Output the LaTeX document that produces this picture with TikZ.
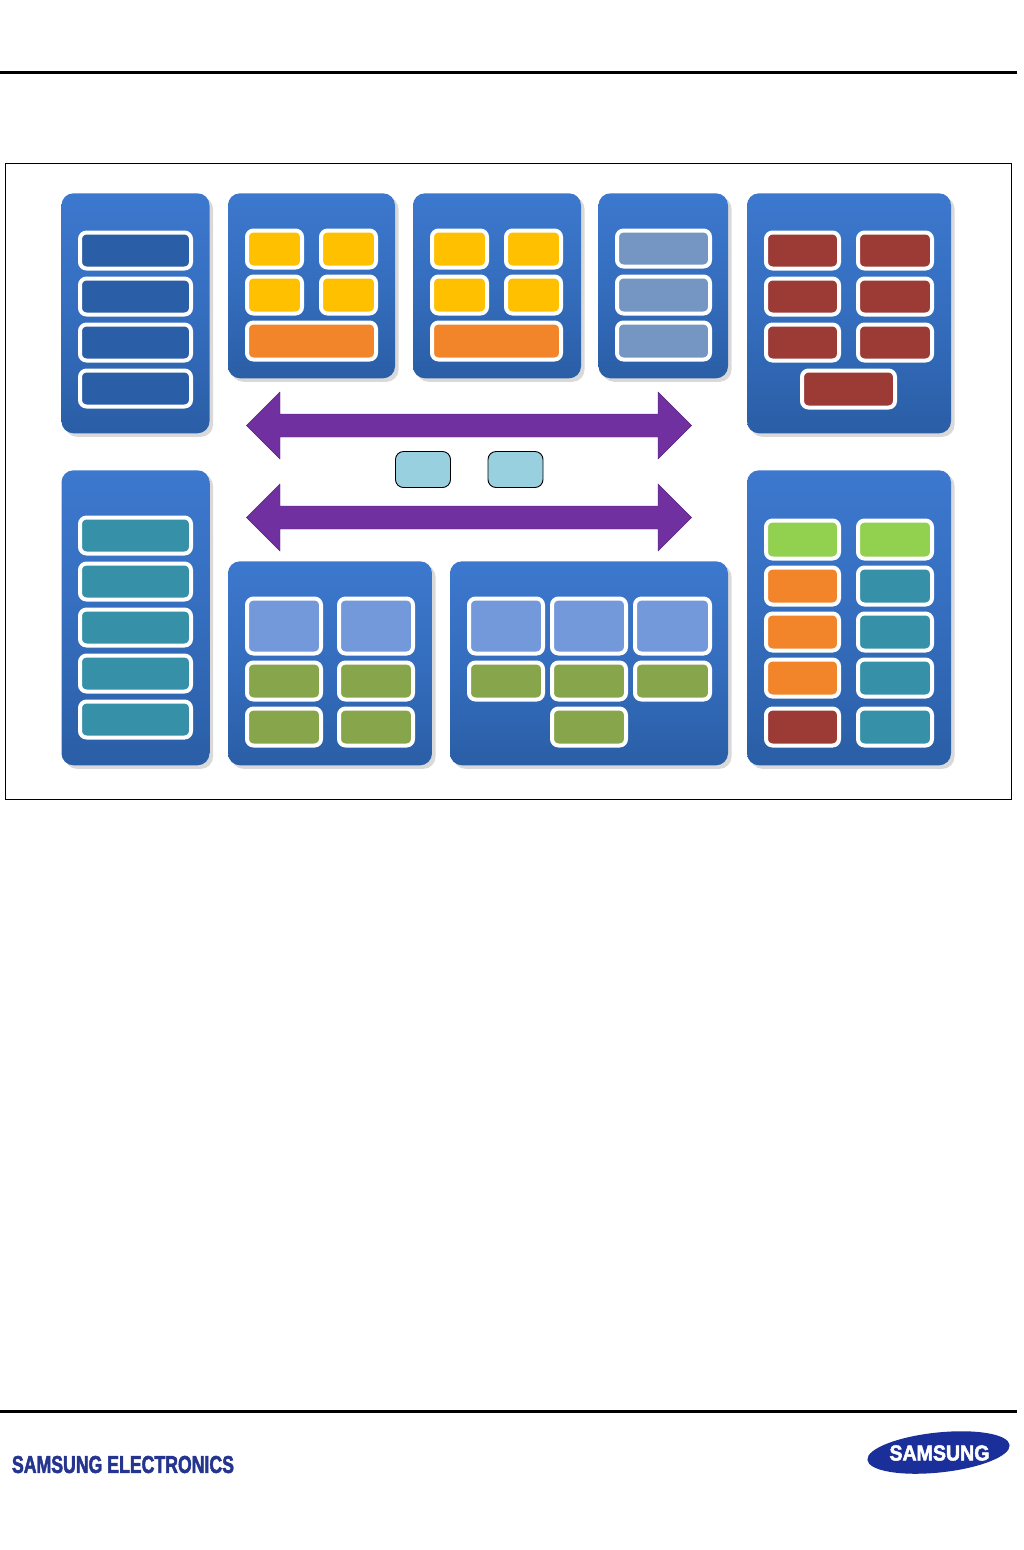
\documentclass[tikz,border=0pt]{standalone}
\usepackage{graphicx}
\usepackage{fontspec}
\setmainfont{Liberation Sans}[BoldFeatures={FakeBold=2.5}]
\usetikzlibrary{shapes.geometric}
\definecolor{pTop}{HTML}{3C78CE}
\definecolor{pBot}{HTML}{2A5EA6}
\definecolor{cNavy}{HTML}{2A5EA6}
\definecolor{cGold}{HTML}{FFC000}
\definecolor{cOrange}{HTML}{F28429}
\definecolor{cSteel}{HTML}{7596C2}
\definecolor{cBrick}{HTML}{9C3A36}
\definecolor{cTeal}{HTML}{3691A8}
\definecolor{cPeri}{HTML}{7399DB}
\definecolor{cOlive}{HTML}{87A64B}
\definecolor{cLime}{HTML}{92D050}
\definecolor{cAqua}{HTML}{99D0DF}
\definecolor{cPurple}{HTML}{7030A0}
\definecolor{cShadow}{HTML}{D9D9D9}
\definecolor{cLogo}{HTML}{1B2F9A}
\definecolor{cWord}{HTML}{24348F}
\tikzset{
  panelbox/.style={rectangle,rounded corners=12pt,inner sep=0pt,outer sep=0pt,top color=pTop,bottom color=pBot,middle color=pTop!60!pBot},
  shadowbox/.style={rectangle,rounded corners=12pt,inner sep=0pt,outer sep=0pt,fill=cShadow},
  cellbox/.style={rectangle,rounded corners=6.5pt,inner sep=0pt,outer sep=0pt,draw=white,line width=4pt},
  busbox/.style={rectangle,rounded corners=8pt,inner sep=0pt,outer sep=0pt,draw=black,line width=0.9pt,fill=cAqua},
  busarrow/.style={fill=cPurple,draw=cPurple!75!black,line width=0.4pt,line join=miter},
  rulebar/.style={line width=3pt,black}
}
% \Panel{name}{x0}{y0}{x1}{y1}
\newcommand{\Panel}[5]{%
  \pgfmathsetmacro{\pw}{#4-#2}\pgfmathsetmacro{\ph}{#5-#3}%
  \pgfmathsetmacro{\pcx}{(#2+#4)/2}\pgfmathsetmacro{\pcy}{(#3+#5)/2+0.3}%
  \node[shadowbox,minimum width=\pw pt,minimum height=\ph pt] (#1s) at (\pcx+3.5,\pcy+3.5) {};
  \node[panelbox,minimum width=\pw pt,minimum height=\ph pt] (#1) at (\pcx,\pcy) {};
}
% \Cell{name}{x0}{y0}{x1}{y1}{colour}: bounds are the outer edge of the white ring
\newcommand{\Cell}[6]{%
  \pgfmathsetmacro{\pw}{#4-#2-4}\pgfmathsetmacro{\ph}{#5-#3-4}%
  \pgfmathsetmacro{\pcx}{(#2+#4)/2}\pgfmathsetmacro{\pcy}{(#3+#5)/2+0.5}%
  \node[cellbox,fill=#6,minimum width=\pw pt,minimum height=\ph pt] (#1) at (\pcx,\pcy) {};
}
\begin{document}
\begin{tikzpicture}[x=1pt,y=-1pt]
\useasboundingbox (0,0) rectangle (1024,1550);
\fill[white] (0,0) rectangle (1024,1550);
\coordinate (ruleTopL) at (0,72);
\coordinate (ruleTopR) at (1017,72);
\coordinate (ruleBotL) at (0,1411);
\coordinate (ruleBotR) at (1017,1411);
\draw[rulebar] (ruleTopL) -- (ruleTopR);
\draw[rulebar] (ruleBotL) -- (ruleBotR);
\draw[black,line width=1pt] (5.5,163.5) rectangle (1011.5,799);

\Panel{pa}{61.5}{193}{209.5}{433}
\Cell{pa1}{78}{230}{193}{270}{cNavy}
\Cell{pa2}{78}{276}{193}{316}{cNavy}
\Cell{pa3}{78}{322}{193}{362}{cNavy}
\Cell{pa4}{78}{368}{193}{408}{cNavy}

\Panel{pb}{228}{193}{395}{378}
\Cell{pb1}{245}{228}{304}{269}{cGold}
\Cell{pb2}{319}{228}{378}{269}{cGold}
\Cell{pb3}{245}{274}{304}{315}{cGold}
\Cell{pb4}{319}{274}{378}{315}{cGold}
\Cell{pb5}{245}{320}{378}{361}{cOrange}

\Panel{pc}{413}{193}{581}{378}
\Cell{pc1}{430}{228}{489}{269}{cGold}
\Cell{pc2}{504}{228}{563}{269}{cGold}
\Cell{pc3}{430}{274}{489}{315}{cGold}
\Cell{pc4}{504}{274}{563}{315}{cGold}
\Cell{pc5}{430}{320}{563}{361}{cOrange}

\Panel{pd}{598.5}{193}{728}{378}
\Cell{pd1}{615}{228}{712}{268}{cSteel}
\Cell{pd2}{615}{274}{712}{315}{cSteel}
\Cell{pd3}{615}{320}{712}{361}{cSteel}

\Panel{pe}{747}{193}{951}{433}
\Cell{pe1}{764}{230}{841}{270}{cBrick}
\Cell{pe2}{856}{230}{934}{270}{cBrick}
\Cell{pe3}{764}{276}{841}{316}{cBrick}
\Cell{pe4}{856}{276}{934}{316}{cBrick}
\Cell{pe5}{764}{322}{841}{362}{cBrick}
\Cell{pe6}{856}{322}{934}{362}{cBrick}
\Cell{pe7}{800}{368}{897}{409}{cBrick}

\Panel{pf}{61.5}{470}{209.5}{765}
\Cell{pf1}{78}{515}{193}{555}{cTeal}
\Cell{pf2}{78}{561}{193}{601}{cTeal}
\Cell{pf3}{78}{607}{193}{647}{cTeal}
\Cell{pf4}{78}{653}{193}{693}{cTeal}
\Cell{pf5}{78}{699}{193}{739}{cTeal}

\Panel{pg}{228}{561}{432}{765}
\Cell{pg1}{245}{596}{323}{655}{cPeri}
\Cell{pg2}{337}{596}{415}{655}{cPeri}
\Cell{pg3}{245}{660}{323}{701}{cOlive}
\Cell{pg4}{337}{660}{415}{701}{cOlive}
\Cell{pg5}{245}{706}{323}{747}{cOlive}
\Cell{pg6}{337}{706}{415}{747}{cOlive}

\Panel{ph}{450}{561}{728}{765}
\Cell{ph1}{467}{596}{545}{655}{cPeri}
\Cell{ph2}{550}{596}{628}{655}{cPeri}
\Cell{ph3}{633}{596}{712}{655}{cPeri}
\Cell{ph4}{467}{660}{545}{701}{cOlive}
\Cell{ph5}{550}{660}{628}{701}{cOlive}
\Cell{ph6}{633}{660}{712}{701}{cOlive}
\Cell{ph7}{550}{706}{628}{747}{cOlive}

\Panel{pi}{747}{470}{951}{765}
\Cell{pi1}{764}{518}{841}{560}{cLime}
\Cell{pi2}{856}{518}{934}{560}{cLime}
\Cell{pi3}{764}{565}{841}{606}{cOrange}
\Cell{pi4}{856}{565}{934}{606}{cTeal}
\Cell{pi5}{764}{611}{841}{652}{cOrange}
\Cell{pi6}{856}{611}{934}{652}{cTeal}
\Cell{pi7}{764}{657}{841}{698}{cOrange}
\Cell{pi8}{856}{657}{934}{698}{cTeal}
\Cell{pi9}{764}{706}{841}{747}{cBrick}
\Cell{pi10}{856}{706}{934}{747}{cTeal}

\draw[busarrow] (246.5,425.5) -- (280,392) -- (280,414) -- (658,414) -- (658,392) -- (691.5,425.5) -- (658,459) -- (658,437) -- (280,437) -- (280,459) -- cycle;
\draw[busarrow] (246.5,517.5) -- (280,484) -- (280,506) -- (658,506) -- (658,484) -- (691.5,517.5) -- (658,551) -- (658,529) -- (280,529) -- (280,551) -- cycle;

\node[busbox,minimum width=55pt,minimum height=36pt] (busa) at (423,469.5) {};
\node[busbox,minimum width=55pt,minimum height=36pt] (busb) at (515.5,469.5) {};

\node[inner sep=0pt,outer sep=0pt,text=cWord] (word) at (123,1464.5) {\resizebox{222pt}{17pt}{\bfseries SAMSUNG ELECTRONICS}};
\node[ellipse,fill=cLogo,inner sep=0pt,outer sep=0pt,minimum width=143pt,minimum height=40pt,rotate=6] (logo) at (938.5,1452.5) {};
\node[inner sep=0pt,outer sep=0pt,text=white] (logotext) at (939.5,1453) {\resizebox{100pt}{15pt}{\bfseries SAMSUNG}};
\end{tikzpicture}
\end{document}
